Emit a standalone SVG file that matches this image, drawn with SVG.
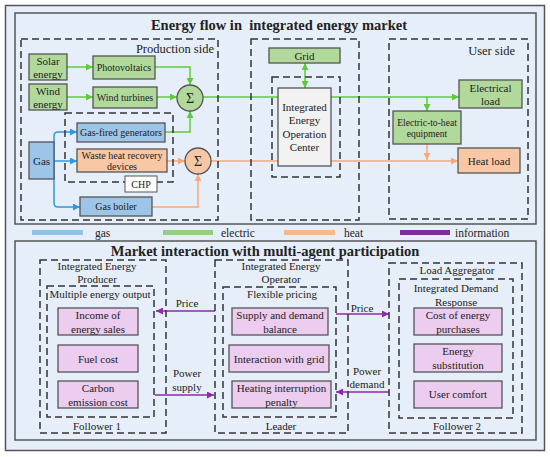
<svg xmlns="http://www.w3.org/2000/svg" width="550" height="457" viewBox="0 0 550 457">
<defs>
<style>
text{font-family:"Liberation Serif","Times New Roman",serif;fill:#222;}
.t{font-size:11px;text-anchor:middle;}
.s{font-size:10px;text-anchor:middle;}
.xs{font-size:9.6px;text-anchor:middle;}
.h{font-size:14.5px;font-weight:bold;text-anchor:middle;}
.lbl{font-size:12.5px;}
.box{stroke:#555;stroke-width:1.3;}
.g{fill:#b1d99c;}
.b{fill:#9cc5e8;}
.o{fill:#f8c8a6;}
.p{fill:#ecccef;}
.dash{fill:none;stroke:#333;stroke-width:1.5;stroke-dasharray:7 4;}
.ce{fill:none;stroke:#5fcb3c;stroke-width:1.5;}
.ch{fill:none;stroke:#f7a978;stroke-width:1.5;}
.cg{fill:none;stroke:#2d9be2;stroke-width:1.5;}
.ci{fill:none;stroke:#8f2aa8;stroke-width:1.6;}
</style>
<marker id="ae" viewBox="0 0 10 10" refX="10" refY="5" markerWidth="7" markerHeight="7" markerUnits="userSpaceOnUse" orient="auto-start-reverse"><path d="M0,0L10,5L0,10z" fill="#5fcb3c"/></marker>
<marker id="ah" viewBox="0 0 10 10" refX="10" refY="5" markerWidth="7" markerHeight="7" markerUnits="userSpaceOnUse" orient="auto-start-reverse"><path d="M0,0L10,5L0,10z" fill="#f7a978"/></marker>
<marker id="ag" viewBox="0 0 10 10" refX="10" refY="5" markerWidth="7" markerHeight="7" markerUnits="userSpaceOnUse" orient="auto-start-reverse"><path d="M0,0L10,5L0,10z" fill="#2d9be2"/></marker>
<marker id="ai" viewBox="0 0 10 10" refX="10" refY="5" markerWidth="7" markerHeight="7" markerUnits="userSpaceOnUse" orient="auto-start-reverse"><path d="M0,0L10,5L0,10z" fill="#8f2aa8"/></marker>
</defs>

<!-- frames -->
<rect x="5.5" y="5.5" width="539" height="445" fill="#e6eff9" stroke="#555" stroke-width="1.5"/>
<rect x="15" y="13" width="521" height="211" fill="#e6eff9" stroke="#555" stroke-width="1.5"/>
<rect x="15" y="241" width="521" height="199" fill="#e6eff9" stroke="#555" stroke-width="1.5"/>
<text class="h" x="279" y="30" xml:space="preserve">Energy flow in  integrated energy market</text>
<text class="h" x="265" y="256">Market interaction with multi-agent participation</text>

<!-- legend -->
<g id="legend">
<rect x="32" y="230" width="51" height="5" fill="#8ec4e8"/>
<text x="95" y="237" style="font-size:11.5px">gas</text>
<rect x="163" y="230" width="50" height="5" fill="#93d07d"/>
<text x="221" y="237" style="font-size:11.5px">electric</text>
<rect x="284" y="230" width="51" height="5" fill="#f8b88e"/>
<text x="344" y="237" style="font-size:11.5px">heat</text>
<rect x="400" y="230" width="50" height="5" fill="#7b2c9e"/>
<text x="455" y="237" style="font-size:11.5px">information</text>
</g>

<!-- connectors -->
<g id="connectors">
<path class="ce" d="M67,67H93" marker-end="url(#ae)"/>
<path class="ce" d="M67,97H93" marker-end="url(#ae)"/>
<path class="ce" d="M155,67H190V85" marker-end="url(#ae)"/>
<path class="ce" d="M157,97H177" marker-end="url(#ae)"/>
<path class="ce" d="M165,132H190V111" marker-end="url(#ae)"/>
<path class="ce" d="M203,97H459" marker-end="url(#ae)"/>
<path class="ce" d="M305,63V88" marker-start="url(#ae)" marker-end="url(#ae)"/>
<path class="ce" d="M427,97V111" marker-end="url(#ae)"/>
<path class="ch" d="M167,161H185" marker-end="url(#ah)"/>
<path class="ch" d="M152,207H198V174" marker-end="url(#ah)"/>
<path class="ch" d="M211,161H458" marker-end="url(#ah)"/>
<path class="ch" d="M427,144V160" marker-end="url(#ah)"/>
<path class="cg" d="M54,161H77" marker-end="url(#ag)"/>
<path class="cg" d="M54,161V136Q54,132 58,132H77" marker-end="url(#ag)"/>
<path class="cg" d="M54,161V203Q54,207 58,207H80" marker-end="url(#ag)"/>
<path class="ci" d="M215,311H156" marker-end="url(#ai)"/>
<path class="ci" d="M155,395H214" marker-end="url(#ai)"/>
<path class="ci" d="M336,314H389" marker-end="url(#ai)"/>
<path class="ci" d="M389,392H336" marker-end="url(#ai)"/>
<text class="t" x="187" y="307">Price</text>
<text class="t" x="187" y="377">Power</text>
<text class="t" x="187" y="391">supply</text>
<text class="t" x="362" y="312">Price</text>
<text class="t" x="367" y="375">Power</text>
<text class="t" x="367" y="388">demand</text>
</g>

<!-- top nodes -->
<g id="production-side"><rect class="dash" x="21" y="39" width="197" height="181"/><text class="lbl" x="214" y="53" text-anchor="end">Production side</text></g>
<g id="chp"><rect class="dash" x="65" y="113" width="108" height="69"/><rect x="125" y="176" width="32" height="16" fill="#fff" stroke="#555" stroke-width="1"/><text class="s" x="141" y="187.5">CHP</text></g>
<g id="solar"><rect class="box g" x="29" y="54" width="38" height="26"/><text class="t" x="48" y="65">Solar</text><text class="t" x="48" y="78">energy</text></g>
<g id="wind"><rect class="box g" x="29" y="84" width="38" height="26"/><text class="t" x="48" y="95">Wind</text><text class="t" x="48" y="108">energy</text></g>
<g id="pv"><rect class="box g" x="93" y="56" width="62" height="23"/><text class="s" x="124" y="71">Photovoltaics</text></g>
<g id="wt"><rect class="box g" x="93" y="87" width="64" height="21"/><text class="s" x="125" y="101">Wind turbines</text></g>
<g id="sum-e"><circle class="box g" cx="190" cy="98" r="13"/><text class="t" x="190" y="103" style="font-size:14px">Σ</text></g>
<g id="gas"><rect class="box b" x="29" y="142" width="25" height="37"/><text class="t" x="41.5" y="164.5">Gas</text></g>
<g id="gfg"><rect class="box b" x="77" y="123" width="88" height="19"/><text class="s" x="121" y="136">Gas-fired generators</text></g>
<g id="whr"><rect class="box o" x="77" y="149" width="90" height="23"/><text class="s" x="122" y="158.5">Waste heat recovery</text><text class="s" x="122" y="169.5">devices</text></g>
<g id="boiler"><rect class="box b" x="80" y="197" width="72" height="19"/><text class="s" x="116" y="210">Gas boiler</text></g>
<g id="sum-h"><circle class="box o" cx="198" cy="161" r="13"/><text class="t" x="198" y="166" style="font-size:14px">Σ</text></g>

<g id="center"><rect class="dash" x="251" y="39" width="108" height="181"/><rect class="dash" x="272" y="77" width="68" height="100"/></g>
<g id="grid"><rect class="box g" x="269" y="48" width="71" height="15"/><text class="t" x="304.5" y="59.5">Grid</text></g>
<g id="ieoc"><rect class="box" fill="#f2f2f2" x="278" y="88" width="53" height="78"/><text class="t" x="304.5" y="111">Integrated</text><text class="t" x="304.5" y="124">Energy</text><text class="t" x="304.5" y="137.5">Operation</text><text class="t" x="304.5" y="151">Center</text></g>

<g id="user-side"><rect class="dash" x="389" y="39" width="139" height="180"/><text class="lbl" x="515" y="54.5" text-anchor="end">User side</text></g>
<g id="eload"><rect class="box g" x="459" y="80" width="63" height="28"/><text class="t" x="490.5" y="92">Electrical</text><text class="t" x="490.5" y="105">load</text></g>
<g id="e2h"><rect class="box g" x="393" y="111" width="68" height="33"/><text class="xs" x="427" y="125.5">Electric-to-heat</text><text class="xs" x="427" y="136.5">equipment</text></g>
<g id="hload"><rect class="box o" x="458" y="148" width="62" height="25"/><text class="t" x="489" y="164.5">Heat load</text></g>

<!-- bottom nodes -->
<g id="follower1"><rect class="dash" x="40" y="260" width="126" height="173"/><text class="t" x="97" y="270">Integrated Energy</text><text class="t" x="97" y="283">Producer</text><text class="t" x="97" y="430">Follower 1</text>
<rect class="dash" x="47" y="286" width="107" height="131"/><text class="t" x="100" y="298">Multiple energy output</text></g>
<g id="income"><rect class="box p" x="58" y="308" width="80" height="27"/><text class="t" x="98" y="319">Income of</text><text class="t" x="98" y="333">energy sales</text></g>
<g id="fuel"><rect class="box p" x="58" y="345" width="80" height="27"/><text class="t" x="98" y="362.5">Fuel cost</text></g>
<g id="carbon"><rect class="box p" x="58" y="381" width="80" height="27"/><text class="t" x="98" y="392">Carbon</text><text class="t" x="98" y="406">emission cost</text></g>

<g id="leader"><rect class="dash" x="215" y="260" width="133" height="173"/><text class="t" x="281" y="270">Integrated Energy</text><text class="t" x="281" y="283">Operator</text><text class="t" x="281" y="430">Leader</text>
<rect class="dash" x="223" y="287" width="113" height="130"/><text class="t" x="282" y="298">Flexible pricing</text></g>
<g id="supply"><rect class="box p" x="232" y="308" width="96" height="27"/><text class="t" x="280" y="319">Supply and demand</text><text class="t" x="280" y="333">balance</text></g>
<g id="igrid"><rect class="box p" x="229" y="345" width="100" height="27"/><text class="t" x="279" y="362.5">Interaction with grid</text></g>
<g id="penalty"><rect class="box p" x="232" y="381" width="99" height="27"/><text class="t" x="281.5" y="392">Heating interruption</text><text class="t" x="281.5" y="406">penalty</text></g>

<g id="follower2"><rect class="dash" x="389" y="263" width="133" height="170"/><text class="t" x="457" y="274">Load Aggregator</text><text class="t" x="457" y="430">Follower 2</text>
<rect class="dash" x="399" y="279" width="114" height="139"/><text class="t" x="456" y="292">Integrated Demand</text><text class="t" x="456" y="306">Response</text></g>
<g id="purchase"><rect class="box p" x="414" y="308" width="88" height="27"/><text class="t" x="458" y="319">Cost of energy</text><text class="t" x="458" y="333">purchases</text></g>
<g id="substitution"><rect class="box p" x="414" y="344" width="88" height="28"/><text class="t" x="458" y="355">Energy</text><text class="t" x="458" y="369">substitution</text></g>
<g id="comfort"><rect class="box p" x="414" y="381" width="88" height="27"/><text class="t" x="458" y="398">User comfort</text></g>
</svg>
